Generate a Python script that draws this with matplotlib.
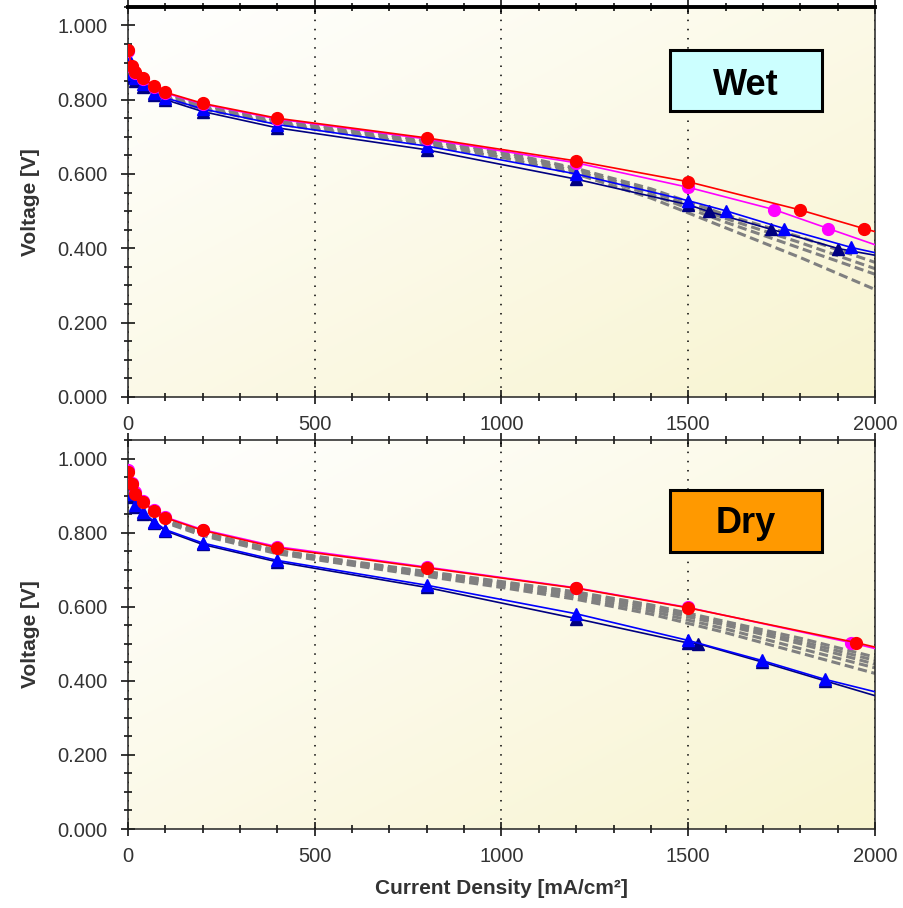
import matplotlib
matplotlib.use('Agg')
import matplotlib.pyplot as plt
import matplotlib.patches as patches
from matplotlib.ticker import MultipleLocator, FormatStrFormatter
import numpy as np

plt.rcParams['font.family'] = ['Liberation Sans', 'DejaVu Sans']

# ---- Wet data ----
wet_red_x = [0, 10, 20, 40, 70, 100, 200, 400, 800, 1200, 1500, 1800, 1970, 2050]
wet_red_y = [0.935, 0.89, 0.875, 0.857, 0.837, 0.82, 0.79, 0.75, 0.697, 0.635, 0.579, 0.503, 0.453, 0.431]
wet_pink_x = [0, 10, 20, 40, 70, 100, 200, 400, 800, 1200, 1500, 1730, 1875, 2050]
wet_pink_y = [0.93, 0.888, 0.872, 0.855, 0.835, 0.818, 0.788, 0.748, 0.694, 0.630, 0.564, 0.504, 0.453, 0.392]
wet_blue_x = [0, 10, 20, 40, 70, 100, 200, 400, 800, 1200, 1500, 1600, 1757, 1937, 2050]
wet_blue_y = [0.915, 0.87, 0.858, 0.843, 0.818, 0.805, 0.775, 0.733, 0.675, 0.60, 0.528, 0.501, 0.453, 0.402, 0.377]
wet_navy_x = [0, 10, 20, 40, 70, 100, 200, 400, 800, 1200, 1500, 1555, 1722, 1902, 2050]
wet_navy_y = [0.905, 0.86, 0.85, 0.835, 0.812, 0.80, 0.768, 0.724, 0.665, 0.586, 0.517, 0.499, 0.451, 0.399, 0.372]

gray_x = [0, 10, 20, 40, 70, 100, 200, 400, 600, 800, 1000, 1200, 1400, 1600, 1800, 2000]
wet_gray = [
    [0.925, 0.885, 0.87, 0.852, 0.832, 0.816, 0.785, 0.745, 0.718, 0.69, 0.66, 0.615, 0.56, 0.49, 0.43, 0.362],
    [0.92, 0.882, 0.866, 0.848, 0.828, 0.812, 0.781, 0.741, 0.713, 0.686, 0.655, 0.612, 0.553, 0.48, 0.415, 0.345],
    [0.915, 0.878, 0.862, 0.845, 0.825, 0.808, 0.778, 0.738, 0.71, 0.682, 0.651, 0.607, 0.545, 0.47, 0.40, 0.33],
    [0.91, 0.875, 0.86, 0.842, 0.822, 0.805, 0.775, 0.735, 0.706, 0.678, 0.645, 0.60, 0.535, 0.455, 0.375, 0.289],
]

# ---- Dry data ----
dry_red_x = [0, 10, 20, 40, 70, 100, 200, 400, 800, 1200, 1500, 1950, 2050]
dry_red_y = [0.965, 0.93, 0.905, 0.882, 0.858, 0.84, 0.806, 0.759, 0.705, 0.650, 0.597, 0.503, 0.479]
dry_pink_x = [0, 10, 20, 40, 70, 100, 200, 400, 800, 1200, 1500, 1935, 2050]
dry_pink_y = [0.97, 0.935, 0.91, 0.885, 0.86, 0.842, 0.808, 0.762, 0.707, 0.651, 0.598, 0.503, 0.475]
dry_blue_x = [0, 10, 20, 40, 70, 100, 200, 400, 800, 1200, 1500, 1697, 1866, 2050]
dry_blue_y = [0.945, 0.905, 0.875, 0.855, 0.83, 0.808, 0.772, 0.725, 0.658, 0.581, 0.509, 0.455, 0.404, 0.358]
dry_navy_x = [0, 10, 20, 40, 70, 100, 200, 400, 800, 1200, 1500, 1527, 1697, 1866, 2050]
dry_navy_y = [0.935, 0.895, 0.868, 0.85, 0.826, 0.805, 0.768, 0.721, 0.652, 0.568, 0.502, 0.500, 0.451, 0.400, 0.345]
dry_gray = [
    [0.955, 0.92, 0.897, 0.875, 0.852, 0.834, 0.80, 0.752, 0.722, 0.695, 0.668, 0.64, 0.605, 0.56, 0.515, 0.464],
    [0.953, 0.918, 0.895, 0.873, 0.850, 0.832, 0.798, 0.750, 0.720, 0.692, 0.665, 0.636, 0.600, 0.555, 0.507, 0.455],
    [0.952, 0.917, 0.894, 0.872, 0.849, 0.831, 0.797, 0.749, 0.718, 0.69, 0.662, 0.632, 0.595, 0.55, 0.50, 0.445],
    [0.95, 0.915, 0.892, 0.87, 0.847, 0.829, 0.795, 0.746, 0.715, 0.686, 0.657, 0.626, 0.588, 0.54, 0.487, 0.435],
    [0.948, 0.912, 0.89, 0.868, 0.845, 0.827, 0.792, 0.743, 0.712, 0.682, 0.652, 0.62, 0.58, 0.53, 0.475, 0.42],
]


def background(ax):
    # white top-left fading to pale yellow bottom-right
    n = 200
    xx, yy = np.meshgrid(np.linspace(0, 1, n), np.linspace(0, 1, n))
    t = (xx + yy) / 2.0
    c0 = np.array([1.0, 1.0, 1.0])
    c1 = np.array([248, 244, 208]) / 255.0
    img = c0 + (c1 - c0) * t[..., None]
    ax.imshow(img, extent=[0, 1, 0, 1], transform=ax.transAxes, aspect='auto',
              zorder=0, origin='upper')


def style_axes(ax, thick_top=False):
    ax.set_xlim(0, 2000)
    ax.set_ylim(0, 1.05)
    ax.xaxis.set_major_locator(MultipleLocator(500))
    ax.xaxis.set_minor_locator(MultipleLocator(100))
    ax.yaxis.set_major_locator(MultipleLocator(0.2))
    ax.yaxis.set_minor_locator(MultipleLocator(0.05))
    ax.yaxis.set_major_formatter(FormatStrFormatter('%.3f'))
    ax.tick_params(which='major', direction='inout', length=10, width=1.1,
                   labelsize=14.5, labelcolor='#333333', top=True, right=False)
    ax.tick_params(which='minor', direction='inout', length=6, width=1.1, top=True, right=False)
    ax.tick_params(axis='x', which='major', pad=8)
    ax.tick_params(axis='y', which='major', pad=10)
    for s in ['left', 'bottom', 'right', 'top']:
        ax.spines[s].set_linewidth(1.1)
        ax.spines[s].set_color('#222222')
    if thick_top:
        ax.spines['top'].set_linewidth(2.8)
        ax.spines['top'].set_color('black')
    ax.grid(axis='x', which='major', color='black', linestyle=(0, (1, 5)), linewidth=1.1)
    ax.set_ylabel('Voltage [V]', fontsize=15, fontweight='bold', color='#333333')
    ax.yaxis.set_label_coords(-0.118, 0.5)


def draw(ax, red, pink, blue, navy, grays):
    for gy in grays:
        ax.plot(gray_x, gy, color='#808080', linestyle=(0, (3, 1.5)), linewidth=2.2, zorder=2)
    ax.plot(navy[0], navy[1], color='#000080', marker='^', markersize=9, linewidth=1.2, zorder=3)
    ax.plot(blue[0], blue[1], color='#0000FF', marker='^', markersize=9, linewidth=1.2, zorder=3)
    ax.plot(pink[0], pink[1], color='#FF00FF', marker='o', markersize=8.5, linewidth=1.2, zorder=4)
    ax.plot(red[0], red[1], color='#FF0000', marker='o', markersize=8.5, linewidth=1.2, zorder=4)


def label_box(ax, text, y0, y1, ybase, face):
    rect = patches.Rectangle((1451, y0), 407, y1 - y0, facecolor=face, edgecolor='black',
                             linewidth=2.2, zorder=6)
    ax.add_patch(rect)
    ax.text(1655, ybase, text, ha='center', va='baseline', fontsize=26,
            fontweight='bold', color='black', zorder=7)


fig = plt.figure(figsize=(9.04, 9.08), dpi=100)
ax1 = fig.add_axes([0.1416, 0.563, 0.8263, 0.4295])
ax2 = fig.add_axes([0.1416, 0.087, 0.8263, 0.4284])

background(ax1)
background(ax2)

draw(ax1, (wet_red_x, wet_red_y), (wet_pink_x, wet_pink_y),
     (wet_blue_x, wet_blue_y), (wet_navy_x, wet_navy_y), wet_gray)
draw(ax2, (dry_red_x, dry_red_y), (dry_pink_x, dry_pink_y),
     (dry_blue_x, dry_blue_y), (dry_navy_x, dry_navy_y), dry_gray)

style_axes(ax1, thick_top=True)
style_axes(ax2)

label_box(ax1, 'Wet', 0.770, 0.935, 0.812, '#CCFFFF')
label_box(ax2, 'Dry', 0.749, 0.916, 0.798, '#FF9900')

ax2.set_xlabel('Current Density [mA/cm²]', fontsize=15, fontweight='bold', color='#333333')
ax2.xaxis.set_label_coords(0.5, -0.128)

fig.savefig('out.png', dpi=100)
